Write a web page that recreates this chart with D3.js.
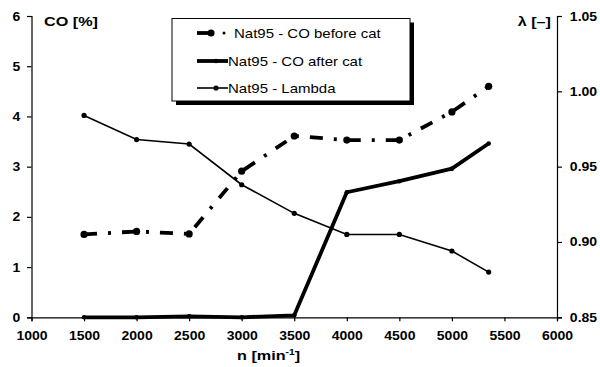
<!DOCTYPE html>
<html>
<head>
<meta charset="utf-8">
<script src="https://cdn.jsdelivr.net/npm/d3@7/dist/d3.min.js"></script>
<style>
  html, body { margin: 0; padding: 0; background: #fff; }
  svg { display: block; font-family: "Liberation Sans", Arial, sans-serif; }
</style>
</head>
<body>
<svg id="chart" width="600" height="367"></svg>
<script>
// Engine speed (rpm) at each measuring point
const rpm = [1500, 2000, 2500, 3000, 3500, 4000, 4500, 5000, 5350];
// CO concentration upstream of the catalyst [%]
const coBefore = [1.65, 1.71, 1.66, 2.91, 3.61, 3.53, 3.53, 4.09, 4.60];
// CO concentration downstream of the catalyst [%]
const coAfter = [0.0, 0.0, 0.02, 0.0, 0.04, 2.49, 2.71, 2.96, 3.46];
// Air-fuel equivalence ratio lambda [-]
const lambda = [0.984, 0.968, 0.965, 0.938, 0.919, 0.905, 0.905, 0.894, 0.880];

const xTicks = [1000, 1500, 2000, 2500, 3000, 3500, 4000, 4500, 5000, 5500, 6000];
const yLeftTicks = [0, 1, 2, 3, 4, 5, 6];
const yRightTicks = [0.85, 0.90, 0.95, 1.00, 1.05];
const seriesNames = ["Nat95 - CO before cat", "Nat95 - CO after cat", "Nat95 - Lambda"];

const SX = 1.2;      // horizontal stretch for titles and legend text
const SX_TICK = 1.12; // horizontal stretch for tick labels

const svg = d3.select("#chart");
svg.append("rect").attr("width", 600).attr("height", 367).attr("fill", "#fff");

const plotLeft = 31.5, plotRight = 557, plotTop = 16, plotBottom = 317.3;

const x = d3.scaleLinear().domain([1000, 6000]).range([plotLeft, plotRight]);
const yL = d3.scaleLinear().domain([0, 6]).range([plotBottom, plotTop]);
const yR = d3.scaleLinear().domain([0.85, 1.05]).range([plotBottom, plotTop]);

function label(g, px, py, str, size, weight, anchor) {
  const t = g.append("g")
    .attr("transform", `translate(${px},${py}) scale(${SX},1)`)
    .append("text")
    .attr("text-anchor", anchor || "start")
    .attr("font-size", size)
    .attr("font-weight", weight || "normal")
    .attr("fill", "#000");
  t.text(str);
  return t;
}

function styleAxis(g) {
  g.select(".domain").attr("stroke", "#000").attr("stroke-width", 1.2);
  g.selectAll(".tick line").attr("stroke", "#000").attr("stroke-width", 1.2);
  g.selectAll(".tick text")
    .attr("font-size", 12.5)
    .attr("font-weight", "bold")
    .attr("font-family", "Liberation Sans, Arial, sans-serif")
    .attr("fill", "#000")
    .attr("transform", `scale(${SX_TICK},1)`);
}

// Axes
const gx = svg.append("g").attr("transform", `translate(0,${plotBottom})`)
  .call(d3.axisBottom(x).tickValues(xTicks).tickFormat(d3.format("d")).tickSizeOuter(0).tickSize(4).tickPadding(10));
styleAxis(gx);

const gl = svg.append("g").attr("transform", `translate(${plotLeft},0)`)
  .call(d3.axisLeft(yL).tickValues(yLeftTicks).tickFormat(d3.format("d")).tickSizeOuter(0).tickSize(4.5).tickPadding(5.5));
styleAxis(gl);

const gr = svg.append("g").attr("transform", `translate(${plotRight},0)`)
  .call(d3.axisRight(yR).tickValues(yRightTicks).tickFormat(d3.format(".2f")).tickSizeOuter(0).tickSize(5).tickPadding(6.5));
styleAxis(gr);

// Axis titles
label(svg, 44, 25.5, "CO [%]", 13.5, "bold");
label(svg, 551, 26, "λ [–]", 13.5, "bold", "end");
const xt = label(svg, 237, 360, "", 13.5, "bold");
xt.append("tspan").text("n [min");
xt.append("tspan").attr("font-size", 8.5).attr("dy", -5).text("-1");
xt.append("tspan").attr("dy", 5).text("]");

// Series
const lineL = d3.line().x((d, i) => x(rpm[i])).y(d => yL(d));
const lineR = d3.line().x((d, i) => x(rpm[i])).y(d => yR(d));

// Lambda (thin line, right axis)
svg.append("path").datum(lambda).attr("d", lineR)
  .attr("fill", "none").attr("stroke", "#000").attr("stroke-width", 1.6);
svg.append("g").selectAll("circle").data(lambda).join("circle")
  .attr("cx", (d, i) => x(rpm[i])).attr("cy", d => yR(d)).attr("r", 2.6).attr("fill", "#000");

// CO after catalyst (thick solid)
svg.append("path").datum(coAfter).attr("d", lineL)
  .attr("fill", "none").attr("stroke", "#000").attr("stroke-width", 3.8).attr("stroke-linejoin", "round");
svg.append("g").selectAll("circle").data(coAfter).join("circle")
  .attr("cx", (d, i) => x(rpm[i])).attr("cy", d => yL(d)).attr("r", 2.3).attr("fill", "#000");

// CO before catalyst (thick dash-dot)
svg.append("path").datum(coBefore).attr("d", lineL)
  .attr("fill", "none").attr("stroke", "#000").attr("stroke-width", 3.8)
  .attr("stroke-dasharray", "13,11,3,11");
svg.append("g").selectAll("circle").data(coBefore).join("circle")
  .attr("cx", (d, i) => x(rpm[i])).attr("cy", d => yL(d)).attr("r", 3.6).attr("fill", "#000");

// Legend
const lg = svg.append("g");
lg.append("rect").attr("x", 176).attr("y", 22.5).attr("width", 238).attr("height", 82.5).attr("fill", "#000");
lg.append("rect").attr("x", 172).attr("y", 18.5).attr("width", 238).attr("height", 82.5)
  .attr("fill", "#fff").attr("stroke", "#000").attr("stroke-width", 1);

const rows = [33, 61, 88];
// row 1: dash-dot sample
lg.append("line").attr("x1", 197).attr("x2", 211).attr("y1", rows[0]).attr("y2", rows[0])
  .attr("stroke", "#000").attr("stroke-width", 3.8);
lg.append("circle").attr("cx", 211).attr("cy", rows[0]).attr("r", 3.6).attr("fill", "#000");
lg.append("circle").attr("cx", 224).attr("cy", rows[0]).attr("r", 1.5).attr("fill", "#000");
// row 2: thick solid sample
lg.append("line").attr("x1", 197).attr("x2", 228).attr("y1", rows[1]).attr("y2", rows[1])
  .attr("stroke", "#000").attr("stroke-width", 3.8);
lg.append("circle").attr("cx", 216).attr("cy", rows[1]).attr("r", 2.3).attr("fill", "#000");
// row 3: thin sample
lg.append("line").attr("x1", 197).attr("x2", 228).attr("y1", rows[2]).attr("y2", rows[2])
  .attr("stroke", "#000").attr("stroke-width", 1.6);
lg.append("circle").attr("cx", 216).attr("cy", rows[2]).attr("r", 2.6).attr("fill", "#000");

label(lg, 234, 37.5, seriesNames[0], 12.5);
label(lg, 228, 65.5, seriesNames[1], 12.5);
label(lg, 228, 92.5, seriesNames[2], 12.5);
</script>
</body>
</html>
